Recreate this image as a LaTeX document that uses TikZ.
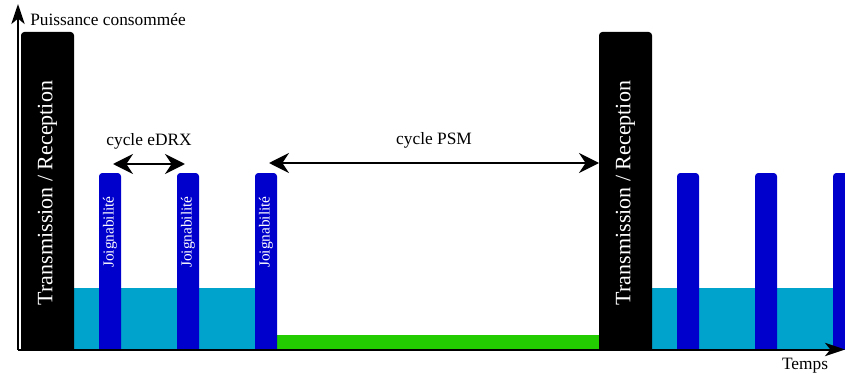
\documentclass[tikz,border=0pt]{standalone}
\usepackage{fontspec}
\setmainfont{Liberation Serif}
\usepackage{xcolor}
\usetikzlibrary{arrows.meta}

\definecolor{joinblue}{RGB}{0,0,204}
\definecolor{edrxteal}{RGB}{0,163,204}
\definecolor{psmgreen}{RGB}{34,204,0}

\tikzset{
  axisline/.style={line width=1.5pt, -{Stealth[length=15pt,width=10pt,inset=4pt]}},
  cyclearrow/.style={line width=1.8pt, {Stealth[length=15pt,width=15pt,inset=5pt]}-{Stealth[length=15pt,width=15pt,inset=5pt]}},
  joinlabel/.style={white, rotate=90, inner sep=0.75pt, font=\fontsize{11.5}{13}\selectfont},
  txlabel/.style={white, rotate=90, inner sep=0.75pt, font=\fontsize{16.5}{19}\selectfont},
  plainlabel/.style={inner sep=0.75pt, font=\fontsize{13}{15}\selectfont}
}

\begin{document}
\begin{tikzpicture}[x=0.75pt,y=0.75pt,yscale=-1,xscale=1]
        \useasboundingbox (0,0) rectangle (845,374);
        \clip (0,0) rectangle (845,374);

        %Shape: Rectangle [eDRX level]
        \fill [color=edrxteal] (73,288) rectangle (256,349.5) ;
        \fill [color=edrxteal] (651,288) rectangle (845,349.5) ;
        %Shape: Rectangle [PSM level]
        \fill [color=psmgreen] (276,335) rectangle (599,349.5) ;

        %Shape: Bars [joignabilite]
        \foreach \bx in {99,177,255,677,755,833}{
          \fill [color=joinblue] (\bx,349.5) {[rounded corners=2.5pt] -- (\bx,173) -- (\bx+22,173)} -- (\bx+22,349.5) -- cycle ;
        }
        % Text Node
        \foreach \bx/\bname in {99/j1,177/j2,255/j3}{
          \node [joinlabel] (\bname) at (\bx+11,232) {Joignabilité};
        }

        %Shape: Bars [transmission]
        \foreach \bx/\bname in {21/tx1,599/tx2}{
          \fill [color=black] (\bx,349.5) {[rounded corners=2.5pt] -- (\bx,32) -- (\bx+53,32)} -- (\bx+53,349.5) -- cycle ;
          \node [txlabel] (\bname) at (\bx+26.5,193) {Transmission / Reception};
        }

        %Axes
        \coordinate (origin) at (18,349.5);
        \coordinate (yend) at (18,4);
        \coordinate (xend) at (845,349.5);
        \draw [axisline] (origin) -- (yend) ;
        \draw [axisline] (origin) -- (xend) ;

        %Cycle arrows
        \coordinate (edrxa) at (113,164);
        \coordinate (edrxb) at (185,164);
        \coordinate (psma) at (269,163);
        \coordinate (psmb) at (599,163);
        \draw [cyclearrow] (edrxa) -- (edrxb) node [plainlabel, midway, yshift=17pt] (edrx) {cycle eDRX} ;
        \draw [cyclearrow] (psma) -- (psmb) node [plainlabel, midway, yshift=17pt] (psm) {cycle PSM} ;

        % Text Node
        \node [plainlabel, anchor=west] (power) at (29,20) {Puissance consommée};
        % Text Node
        \node [plainlabel] (time) at (805,366) {Temps};

\end{tikzpicture}
\end{document}
